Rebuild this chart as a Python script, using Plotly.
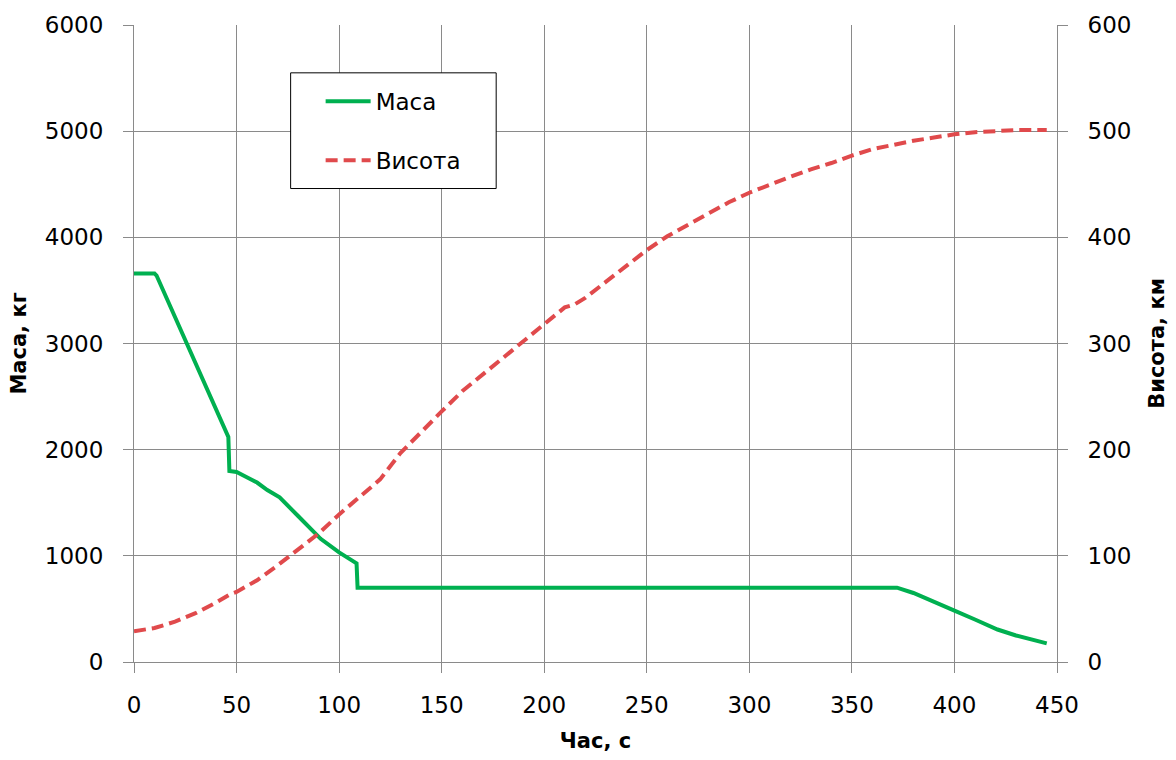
import plotly.graph_objects as go

# Mass (kg) vs time (s)
mass_t = [0, 10, 11, 20, 30, 40, 45, 46, 46.5, 50, 55, 60, 65, 71, 80, 91, 100, 107.5, 108.5, 109,
          372, 380, 388, 400, 410, 421, 430, 440, 445]
mass_kg = [3660, 3660, 3640, 3250, 2810, 2380, 2160, 2120, 1800, 1790, 1740, 1690, 1620, 1551, 1375, 1160,
           1032, 938, 930, 700, 700, 650, 580, 484, 400, 306, 250, 195, 175]

# Altitude (km) vs time (s)
alt_t = [0, 10, 20, 30, 40, 47, 50, 60, 70, 80, 90, 100, 110, 120, 130, 140, 150, 160, 170, 180, 190,
         200, 210, 215, 220, 230, 240, 250, 260, 270, 280, 290, 300, 310, 320, 330, 340, 350, 360, 370,
         380, 390, 400, 410, 420, 430, 440, 445]
alt_km = [29, 32, 38, 46, 56, 64, 66, 77, 91, 106, 121, 139, 155, 172, 197, 217, 236, 255, 271, 287, 302,
          319, 334, 337, 343, 358, 373, 388, 401, 412, 423, 433, 442, 450, 457, 464, 470, 477, 483, 487,
          491, 494, 497, 499, 500, 501, 501, 501]

x_ticks = [0, 50, 100, 150, 200, 250, 300, 350, 400, 450]
y1_ticks = [0, 1000, 2000, 3000, 4000, 5000, 6000]
y2_ticks = [0, 100, 200, 300, 400, 500, 600]

FONT = "DejaVu Sans"
GRID = "#8a8a8a"

fig = go.Figure()
fig.add_trace(go.Scatter(x=mass_t, y=mass_kg, mode="lines", name="Маса",
                         line=dict(color="#00B050", width=4), legendgroup="a"))
fig.add_trace(go.Scatter(x=alt_t, y=alt_km, mode="lines", name="Висота", yaxis="y2",
                         line=dict(color="#E04A4C", width=4, dash="12px,6px"), legendgroup="b"))

# legend frame (white box with black border)
fig.add_shape(type="rect", xref="paper", yref="paper",
              x0=0.1697, x1=0.3924, y0=0.7433, y1=0.9249,
              line=dict(color="black", width=1), fillcolor="white", layer="above")

fig.update_layout(
    width=1176, height=760,
    margin=dict(l=134, r=117, t=24, b=97),
    paper_bgcolor="white", plot_bgcolor="white",
    font=dict(family=FONT, size=23, color="black"),
    showlegend=True,
    legend=dict(x=0.2022, y=0.914, xanchor="left", yanchor="top",
                borderwidth=0, bgcolor="rgba(0,0,0,0)",
                font=dict(family=FONT, size=23, color="black"),
                traceorder="grouped", tracegroupgap=26, itemwidth=45),
    xaxis=dict(range=[0, 450], tickvals=x_ticks, ticktext=[str(v) for v in x_ticks],
               showgrid=True, gridcolor=GRID, gridwidth=1,
               showline=True, linecolor=GRID, linewidth=1,
               ticks="outside", ticklen=10, tickcolor=GRID, ticklabelstandoff=12,
               zeroline=False,
               title=dict(text="<b>Час, с</b>", font=dict(family=FONT, size=21), standoff=16)),
    yaxis=dict(range=[0, 6000], tickvals=y1_ticks, ticktext=[str(v) for v in y1_ticks],
               showgrid=True, gridcolor=GRID, gridwidth=1,
               showline=True, linecolor=GRID, linewidth=1,
               ticks="outside", ticklen=10, tickcolor=GRID, ticklabelstandoff=15,
               zeroline=False,
               title=dict(text="<b>Маса, кг</b>", font=dict(family=FONT, size=21), standoff=12)),
    yaxis2=dict(range=[0, 600], tickvals=y2_ticks, ticktext=[str(v) for v in y2_ticks],
                overlaying="y", side="right", showgrid=False,
                showline=True, linecolor=GRID, linewidth=1,
                ticks="outside", ticklen=10, tickcolor=GRID, ticklabelstandoff=15,
                zeroline=False,
                title=dict(text="<b>Висота, км</b>", font=dict(family=FONT, size=21), standoff=18)),
)

fig.write_html("out.html")
